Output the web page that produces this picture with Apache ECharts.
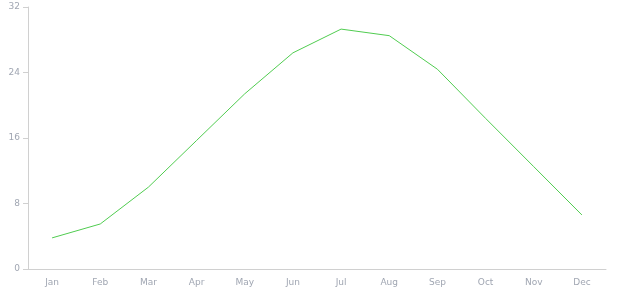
<!DOCTYPE html>
<html><head><meta charset="utf-8">
<script src="https://cdn.jsdelivr.net/npm/echarts@6/dist/echarts.min.js"></script>
<style>html,body{margin:0;padding:0;background:#fff}#c{width:620px;height:300px}</style>
</head><body><div id="c"></div>
<script>
const categories = ['Jan','Feb','Mar','Apr','May','Jun','Jul','Aug','Sep','Oct','Nov','Dec'];
const values = [3.8, 5.5, 10.0, 15.7, 21.4, 26.4, 29.3, 28.5, 24.4, 18.4, 12.5, 6.6];
const yTicks = {min: 0, max: 32, interval: 8};

const chart = echarts.init(document.getElementById('c'));
chart.setOption({
  animation: false,
  grid: {left: 28, right: 14, top: 7, bottom: 31},
  xAxis: {
    type: 'category', data: categories,
    axisLine: {lineStyle: {color: '#d0d0d0'}},
    axisTick: {lineStyle: {color: '#d0d0d0'}},
    axisLabel: {color: '#a0a6b2', fontSize: 9, margin: 9, fontFamily: 'DejaVu Sans'}
  },
  yAxis: {
    type: 'value', min: yTicks.min, max: yTicks.max, interval: yTicks.interval,
    axisLine: {show: true, lineStyle: {color: '#d0d0d0'}},
    axisTick: {show: true, lineStyle: {color: '#d0d0d0'}},
    splitLine: {show: false},
    axisLabel: {color: '#a0a6b2', fontSize: 9, fontFamily: 'DejaVu Sans'}
  },
  series: [{
    type: 'line', data: values, showSymbol: false,
    lineStyle: {color: '#50cc50', width: 1}
  }]
});
</script></body></html>
